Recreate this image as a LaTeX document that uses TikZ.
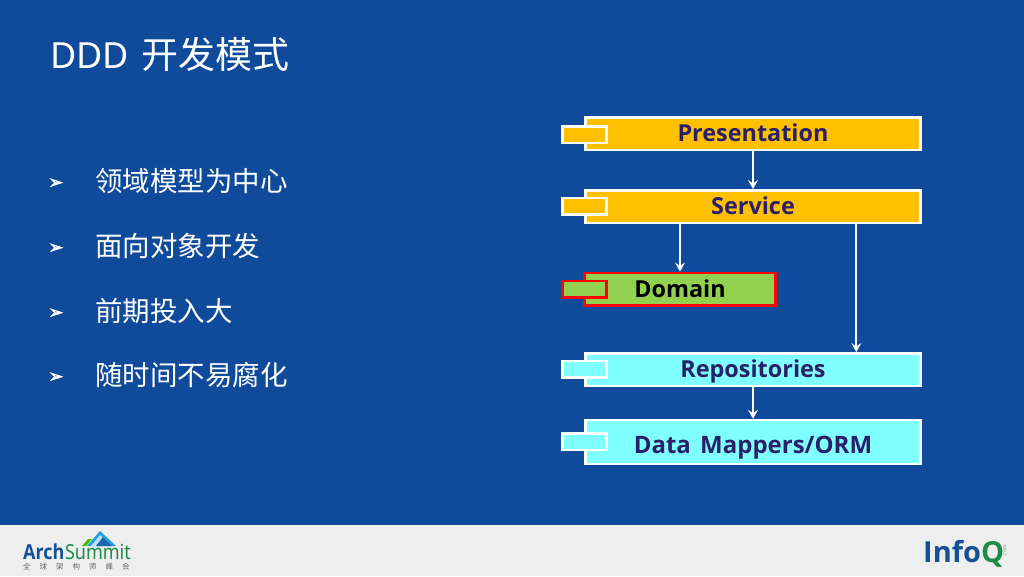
\documentclass[tikz,border=0pt]{standalone}
\usepackage{fontspec}
\setmainfont{Open Sans}
\newfontfamily\cjk{Noto Sans CJK SC}
\newfontfamily\dejavu[FakeBold=2.5]{DejaVu Sans}
\newfontfamily\latn{Noto Sans}
\usetikzlibrary{calc,arrows.meta}

\definecolor{bgblue}{RGB}{15,74,155}
\definecolor{footgray}{RGB}{238,238,238}
\definecolor{layerorange}{RGB}{255,192,0}
\definecolor{layergreen}{RGB}{146,208,80}
\definecolor{layercyan}{RGB}{128,255,255}
\definecolor{layerink}{RGB}{42,31,107}
\definecolor{archblue}{RGB}{20,80,150}
\definecolor{archgreen}{RGB}{30,140,70}
\definecolor{skyblue}{RGB}{30,160,225}

\tikzset{
	layerbox/.style={draw=white,line width=2.5pt,minimum width=335pt,minimum height=32.5pt,inner sep=0pt,text=layerink,text height=16.5pt,text depth=0pt,font=\bfseries\fontsize{23.4}{24}\selectfont},
	tabbox/.style={draw=white,line width=2.5pt,minimum width=44pt,minimum height=16.5pt,inner sep=0pt},
	bulletmark/.style={text=white,font=\dejavu\fontsize{18}{18}\selectfont,inner sep=0pt},
	bullettext/.style={text=white,font=\cjk\fontsize{27.5}{27.5}\selectfont,anchor=west,inner sep=0pt},
	flow/.style={-{Stealth[length=9pt,width=10pt,inset=3.5pt]},draw=white,line width=1.8pt},
}

\begin{document}
\begin{tikzpicture}[x=1pt,y=-1pt]

	% page and footer
	\useasboundingbox (0,0) rectangle (1024,576);
	\fill[bgblue] (0,0) rectangle (1024,576);
	\fill[footgray] (0,525) rectangle (1024,576);

	% title
	\node[anchor=west,inner sep=0pt,text=white] (title) at (50,54)
		{\fontsize{36}{36}\selectfont\latn DDD\hspace{12pt}\cjk\fontsize{37}{37}\selectfont 开发模式};

	% bullet list
	\node[bulletmark] (m1) at (56,183.5) {➢};
	\node[bulletmark] (m2) at (56,248.5) {➢};
	\node[bulletmark] (m3) at (56,313.5) {➢};
	\node[bulletmark] (m4) at (56,377.5) {➢};
	\node[bullettext] (t1) at (95,181) {领域模型为中心};
	\node[bullettext] (t2) at (95,246) {面向对象开发};
	\node[bullettext] (t3) at (95,311) {前期投入大};
	\node[bullettext] (t4) at (95,375) {随时间不易腐化};

	% layers
	\node[layerbox,fill=layerorange] (pres) at (753,133.5) {Presentation};
	\node[layerbox,fill=layerorange] (serv) at (753,206.5) {Service};
	\node[layerbox,fill=layergreen,draw=red,text=black,minimum width=191pt] (dom) at (680,289) {Domain};
	\node[layerbox,fill=layercyan] (repo) at (753,369.5) {Repositories};
	\node[layerbox,fill=layercyan,minimum height=44pt,text height=22.5pt,font=\bfseries\fontsize{24}{24}\selectfont] (data) at (753,442) {Data\hspace{3pt} Mappers/ORM};

	% tabs
	\node[tabbox,fill=layerorange] (presT) at (584.5,134.5) {};
	\node[tabbox,fill=layerorange] (servT) at (584.5,206) {};
	\node[tabbox,fill=layergreen,draw=red] (domT) at (584.5,289) {};
	\node[tabbox,fill=layercyan] (repoT) at (584.5,369) {};
	\node[tabbox,fill=layercyan] (dataT) at (584.5,441.5) {};

	% connectors
	\draw[flow] (pres) -- (serv);
	\draw[flow] (dom.north |- serv.south) -- (dom.north);
	\draw[flow] ($(serv.south west)!0.806!(serv.south east)$) -- ($(repo.north west)!0.806!(repo.north east)$);
	\draw[flow] (repo) -- (data);

	% ArchSummit logo
	\fill[skyblue] (100,531) -- (116,546) -- (87,546) -- cycle;
	\fill[white!70!skyblue] (100,535) -- (106,540) -- (96,546) -- (91,546) -- cycle;
	\fill[archblue!70!skyblue] (103,537) -- (112,546) -- (96,546) -- cycle;
	\fill[green!50!olive] (82,546) -- (88,539) -- (92,539) -- (86,546) -- cycle;
	\node[anchor=base west,inner sep=0pt] (arch) at (23,559.5)
		{\fontsize{18}{18}\selectfont\scalebox{1}[1.15]{\textcolor{archblue}{\bfseries Arch}\hspace{0.5pt}\textcolor{archgreen}{\latn Summit}}};
	\node[anchor=west,inner sep=0pt,text=black!60] (archsub) at (23,567)
		{\cjk\fontsize{7.5}{7.5}\selectfont 全\hspace{9pt}球\hspace{9pt}架\hspace{9pt}构\hspace{9pt}师\hspace{9pt}峰\hspace{9pt}会};

	% InfoQ logo
	\node[anchor=base west,inner sep=0pt] (infoq) at (923,562)
		{\fontsize{29}{29}\selectfont\bfseries\textcolor{archblue}{Info}\textcolor{archgreen}{Q}};
	\node[rotate=90,inner sep=0pt,text=black!50] (infocom) at (1005,551) {\fontsize{5}{5}\selectfont .com};

\end{tikzpicture}
\end{document}
